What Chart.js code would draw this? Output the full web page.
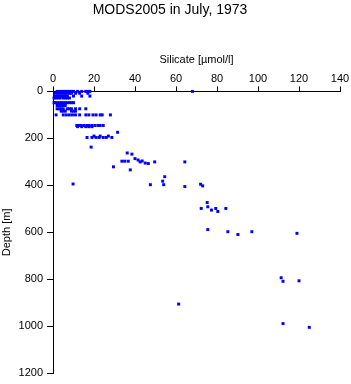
<!DOCTYPE html>
<html>
<head>
<meta charset="utf-8">
<script src="https://cdn.jsdelivr.net/npm/chart.js@4.4.1/dist/chart.umd.min.js"></script>
<style>
  html, body { margin: 0; padding: 0; background: #fff; }
  #wrap { width: 351px; height: 384px; }
</style>
</head>
<body>
<div id="wrap"><canvas id="scatterChart"></canvas></div>
<script>
// Data: kedalaman [m] dan silikat [µmol/l]
var depth = [
  0, 0, 0, 0, 0, 0, 0, 0, 0, 0, 0, 0, 0, 0, 0,
  8, 8, 8, 8, 8, 8, 8, 8, 8, 8, 8, 8,
  20, 20, 20, 20, 20, 20, 20, 20, 20, 20,
  28, 28, 28, 28, 28, 28, 28, 28,
  48, 48, 48, 48, 48, 48, 48, 48, 48, 48, 48,
  60, 60, 60, 60, 60,
  74, 74, 74, 74, 74, 74, 74, 74, 74, 74,
  84, 84, 84, 84, 84, 84,
  100, 100, 100, 100, 100, 100, 100, 100, 100, 100, 100, 100, 100, 100,
  145, 145, 145, 145, 145, 145, 145, 145, 145, 145, 145,
  150, 150, 150, 150, 150,
  174,
  190, 190, 190,
  196, 196, 196, 196, 196, 196, 196,
  237,
  262, 267,
  297, 297, 297,
  286, 292, 300, 296, 305, 307,
  300, 300,
  321, 334, 363, 382, 397, 397, 394, 405, 395, 402,
  473, 498, 491, 505, 498, 511, 498,
  588, 597, 609, 597, 604,
  793, 808, 806, 905, 988, 1004
];
var silicate = [
  2, 3, 4, 5, 6, 7, 8, 9, 10, 12, 14, 16, 17, 18, 68,
  1, 2, 3, 4, 5, 6, 7, 8, 9, 11, 13, 17,
  1, 2, 3, 4, 5, 6, 7, 10, 14, 18,
  0.5, 1.5, 2.5, 3.5, 5, 6, 7, 8,
  0.5, 1, 2, 3, 4, 5, 6, 7, 8, 9, 10,
  2, 3, 4, 5, 6,
  2, 3, 4, 5, 7, 8, 9, 11, 13, 16,
  4, 5, 6, 9, 10, 11,
  1.5, 5, 6.5, 8, 9.5, 11, 13, 16, 17.5, 19.5, 21, 23, 24, 28,
  11.6, 12.5, 13.5, 15, 16.5, 17.5, 19, 20.5, 22, 23, 24.5,
  12, 14, 16, 17.5, 19,
  31.5,
  20, 23, 27,
  16.6, 19, 21, 22.5, 24.5, 26, 28.7,
  18.6,
  36.2, 38.5,
  33.6, 35, 36.7,
  40, 41.5, 42.5, 43.5, 45, 46.5,
  49.6, 64.3,
  29.5, 37.7, 54.5, 53.5, 54, 47.5, 9.8, 64.3, 72, 73,
  75.2, 72.3, 75.5, 77.3, 79.4, 80.4, 84.3,
  75.5, 85.3, 90.2, 97, 119,
  111.3, 112.2, 120, 61.3, 112.2, 125
];
var xTicks = [0, 20, 40, 60, 80, 100, 120, 140];
var yTicks = [0, 200, 400, 600, 800, 1000, 1200];

var points = silicate.map(function (s, i) {
  return { x: s, y: depth[i] };
});

var fontName = "'Liberation Sans', Arial, sans-serif";
var ctx = document.getElementById("scatterChart").getContext("2d");
var chart = new Chart(ctx, {
  type: "scatter",
  data: {
    datasets: [
      {
        label: "Silicate",
        data: points,
        pointStyle: "rect",
        pointRadius: 2.1,
        borderWidth: 0,
        backgroundColor: "#0000ff",
        clip: false, // titik di kedalaman 0 tetap terlihat di atas sumbu
      },
    ],
  },
  options: {
    responsive: true,
    maintainAspectRatio: false,
    animation: false,
    layout: { padding: { left: 0, right: 11, top: 0, bottom: 8 } },
    plugins: {
      legend: { display: false },
      tooltip: { enabled: false },
      title: {
        display: true,
        text: "MODS2005 in July, 1973",
        color: "#000",
        font: { family: fontName, size: 14, weight: "normal" },
        padding: { top: 2, bottom: 0 },
      },
    },
    scales: {
      x: {
        type: "linear",
        position: "top",
        min: 0,
        max: 140,
        afterBuildTicks: function (scale) {
          scale.ticks = xTicks.map(function (v) { return { value: v }; });
        },
        afterFit: function (scale) {
          scale.height = 72.6;
        },
        grid: { drawOnChartArea: false, drawTicks: true, tickLength: 5, color: "#000" },
        border: { display: true, color: "#000", width: 1 },
        ticks: { color: "#000", padding: 1, maxRotation: 0, font: { family: fontName, size: 11 } },
        title: {
          display: true,
          text: "Silicate [µmol/l]",
          color: "#000",
          font: { family: fontName, size: 11 },
          padding: { top: 35, bottom: 0 },
        },
      },
      y: {
        type: "linear",
        reverse: true,
        min: 0,
        max: 1200,
        afterBuildTicks: function (scale) {
          scale.ticks = yTicks.map(function (v) { return { value: v }; });
        },
        afterFit: function (scale) {
          scale.width = 53;
        },
        grid: { drawOnChartArea: false, drawTicks: true, tickLength: 6, color: "#000" },
        border: { display: true, color: "#000", width: 1 },
        ticks: {
          color: "#000",
          padding: 4,
          font: { family: fontName, size: 11 },
          callback: function (value) {
            return String(value);
          },
        },
        title: {
          display: true,
          text: "Depth [m]",
          color: "#000",
          font: { family: fontName, size: 11 },
          padding: { top: 0, bottom: 0 },
        },
      },
    },
  },
});
</script>
</body>
</html>
